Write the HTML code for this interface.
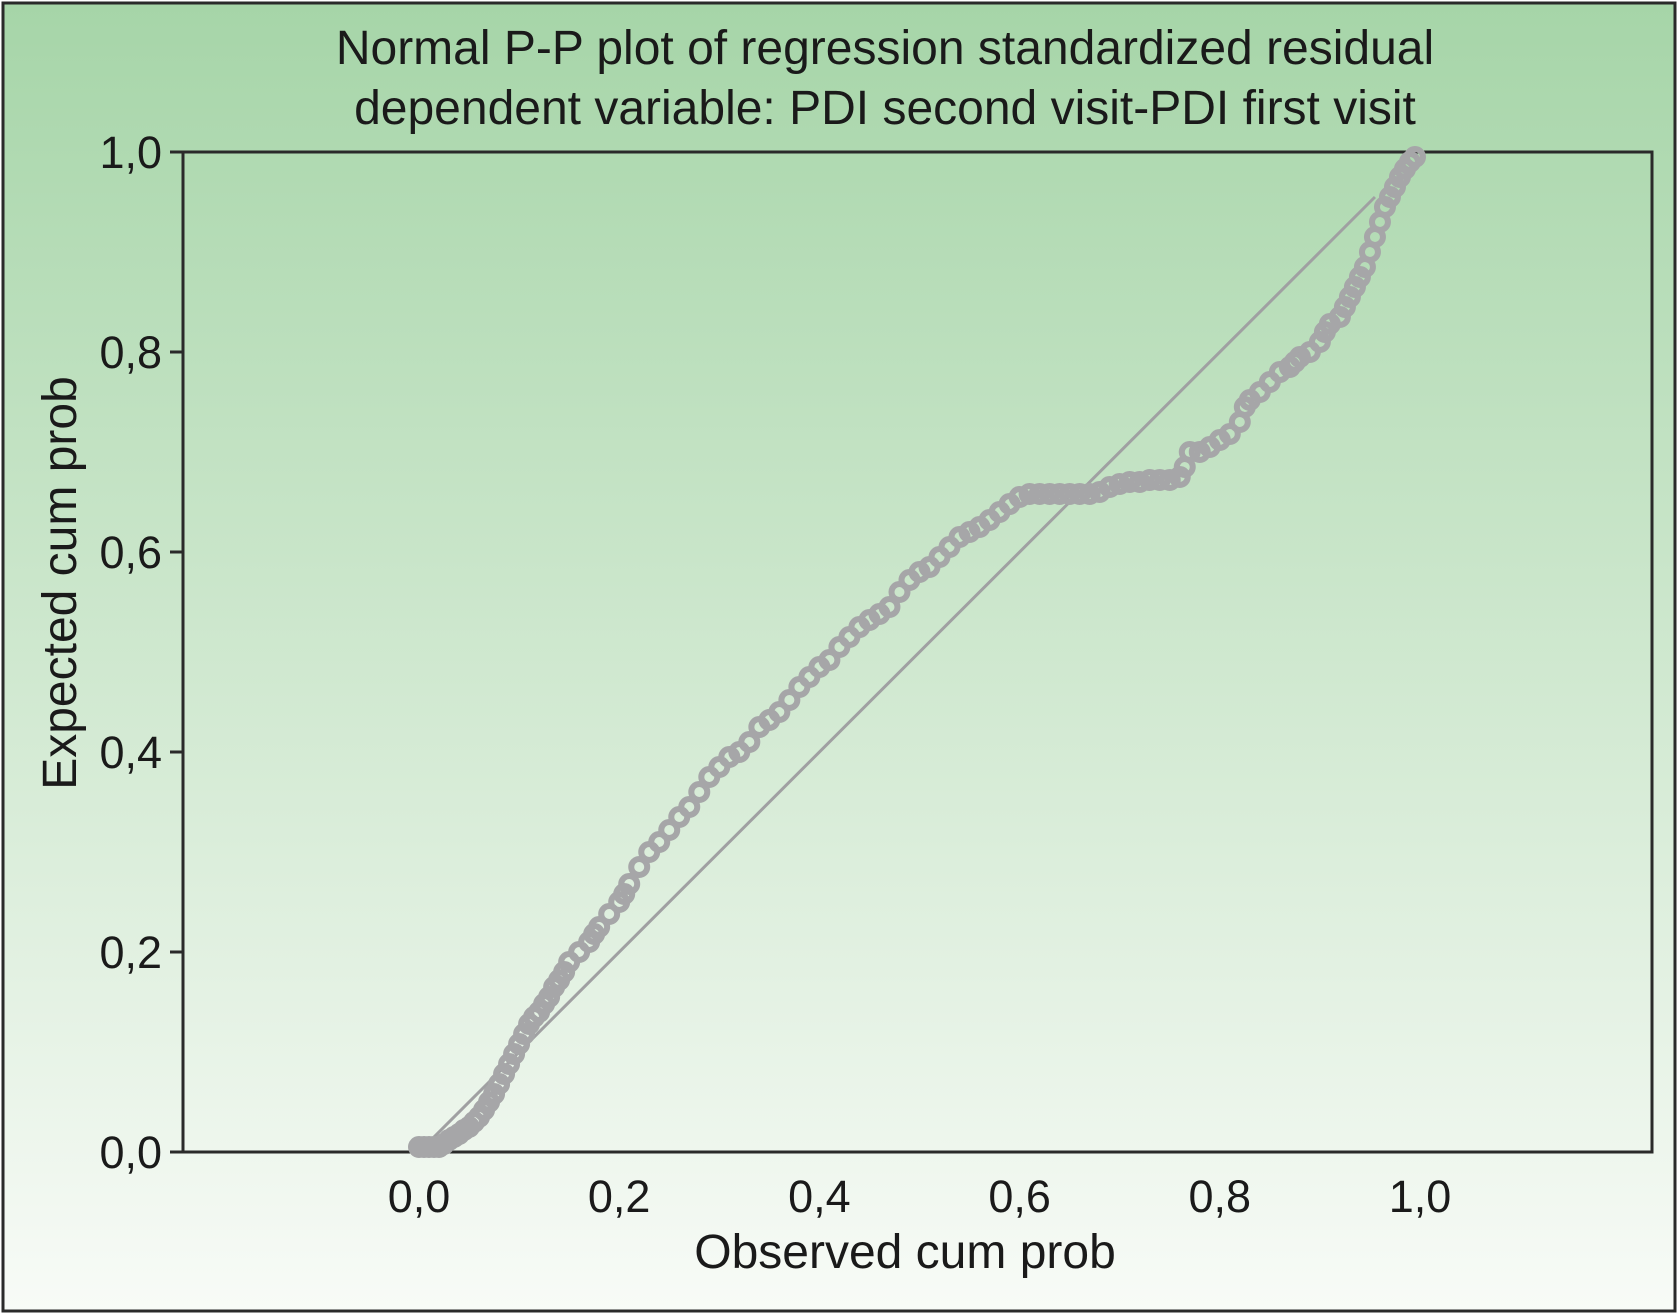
<!DOCTYPE html>
<html><head><meta charset="utf-8"><style>
html,body{margin:0;padding:0;background:#fff;}
svg{display:block;font-family:"Liberation Sans",Arial,sans-serif;}
</style></head><body>
<svg id="chart" width="1680" height="1315" viewBox="0 0 1680 1315">
<defs><linearGradient id="bg" x1="0" y1="0" x2="0" y2="1">
<stop offset="0" stop-color="#a6d5a8"/><stop offset="0.5" stop-color="#cfe8cf"/><stop offset="1" stop-color="#f8fbf7"/></linearGradient></defs>
<rect x="3" y="3" width="1672" height="1308" fill="url(#bg)" stroke="#2a2a2a" stroke-width="3"/>
<text x="885" y="64" font-size="48" text-anchor="middle" fill="#1a1a1a">Normal P-P plot of regression standardized residual</text>
<text x="885" y="124" font-size="48" text-anchor="middle" fill="#1a1a1a">dependent variable: PDI second visit-PDI first visit</text>
<rect x="183" y="152" width="1469" height="1000" fill="none" stroke="#2a2a2a" stroke-width="3"/>
<g id="ticks"></g>
<line id="refline" stroke="#a0a0a2" stroke-width="3"/>
<g id="points"></g>
<text x="905" y="1268" font-size="48" text-anchor="middle" fill="#1a1a1a">Observed cum prob</text>
<text transform="translate(76,583) rotate(-90)" font-size="48" text-anchor="middle" fill="#1a1a1a">Expected cum prob</text>
</svg>
<script>
const tickValues=[0,0.2,0.4,0.6,0.8,1.0];
const tickLabels=["0,0","0,2","0,4","0,6","0,8","1,0"];
const obs=[0.0,0.005,0.01,0.015,0.02,0.025,0.03,0.035,0.04,0.045,0.05,0.055,0.06,0.065,0.07,0.075,0.08,0.085,0.09,0.095,0.1,0.105,0.11,0.115,0.12,0.125,0.13,0.135,0.14,0.145,0.15,0.16,0.17,0.175,0.18,0.19,0.2,0.205,0.21,0.22,0.23,0.24,0.25,0.26,0.27,0.28,0.29,0.3,0.31,0.32,0.33,0.34,0.35,0.36,0.37,0.38,0.39,0.4,0.41,0.42,0.43,0.44,0.45,0.46,0.47,0.48,0.49,0.5,0.51,0.52,0.53,0.54,0.55,0.56,0.57,0.58,0.59,0.6,0.61,0.62,0.63,0.64,0.65,0.66,0.67,0.68,0.69,0.7,0.71,0.72,0.73,0.74,0.75,0.76,0.765,0.77,0.78,0.79,0.8,0.81,0.82,0.825,0.83,0.84,0.85,0.86,0.87,0.875,0.88,0.89,0.9,0.905,0.91,0.92,0.925,0.93,0.935,0.94,0.945,0.95,0.955,0.96,0.965,0.97,0.975,0.98,0.985,0.99,0.995];
const expd=[0.005,0.005,0.005,0.005,0.005,0.008,0.012,0.015,0.018,0.022,0.025,0.03,0.035,0.042,0.05,0.058,0.068,0.078,0.088,0.098,0.108,0.118,0.128,0.135,0.14,0.148,0.155,0.165,0.172,0.18,0.19,0.2,0.21,0.218,0.225,0.238,0.25,0.258,0.268,0.285,0.3,0.31,0.322,0.335,0.345,0.36,0.375,0.385,0.395,0.4,0.41,0.425,0.432,0.44,0.452,0.465,0.475,0.485,0.492,0.505,0.515,0.525,0.532,0.538,0.545,0.56,0.572,0.58,0.585,0.595,0.605,0.615,0.62,0.625,0.632,0.64,0.648,0.655,0.658,0.658,0.658,0.658,0.658,0.658,0.658,0.66,0.665,0.668,0.67,0.67,0.672,0.672,0.672,0.675,0.685,0.7,0.7,0.705,0.712,0.718,0.73,0.745,0.752,0.76,0.77,0.78,0.785,0.79,0.795,0.8,0.81,0.82,0.828,0.835,0.845,0.855,0.865,0.875,0.885,0.9,0.915,0.93,0.945,0.955,0.965,0.975,0.983,0.99,0.995];
const X0=419,X1=1420,Y0=1152,Y1=152;
const xs=v=>X0+v*(X1-X0), ys=v=>Y0-v*(Y0-Y1);
const NS="http://www.w3.org/2000/svg";
const tg=document.getElementById('ticks');
tickValues.forEach((v,i)=>{
 let t=document.createElementNS(NS,'line');
 t.setAttribute('x1',183);t.setAttribute('x2',170);t.setAttribute('y1',ys(v));t.setAttribute('y2',ys(v));
 t.setAttribute('stroke','#2a2a2a');t.setAttribute('stroke-width','3');
 
 
 tg.appendChild(t);
 let l=document.createElementNS(NS,'text');
 l.setAttribute('x',162);l.setAttribute('y',ys(v)+16);l.setAttribute('text-anchor','end');l.setAttribute('font-size','45');l.setAttribute('fill','#1a1a1a');
 l.textContent=tickLabels[i];
 
 
 tg.appendChild(l);
 let l2=document.createElementNS(NS,'text');
 l2.setAttribute('x',xs(v));l2.setAttribute('y',1212);l2.setAttribute('text-anchor','middle');l2.setAttribute('font-size','45');l2.setAttribute('fill','#1a1a1a');
 l2.textContent=tickLabels[i];
 
 
 tg.appendChild(l2);
});
const rl=document.getElementById('refline');
rl.setAttribute('x1',xs(0));rl.setAttribute('y1',ys(0));rl.setAttribute('x2',xs(0.955));rl.setAttribute('y2',ys(0.955));
const pg=document.getElementById('points');
obs.forEach((o,i)=>{
 let c=document.createElementNS(NS,'circle');
 c.setAttribute('cx',xs(o));c.setAttribute('cy',ys(expd[i]));c.setAttribute('r',8);
 c.setAttribute('fill','none');c.setAttribute('stroke','#a6a6a8');c.setAttribute('stroke-width','6');
 
 
 pg.appendChild(c);
});
</script>
</body></html>
